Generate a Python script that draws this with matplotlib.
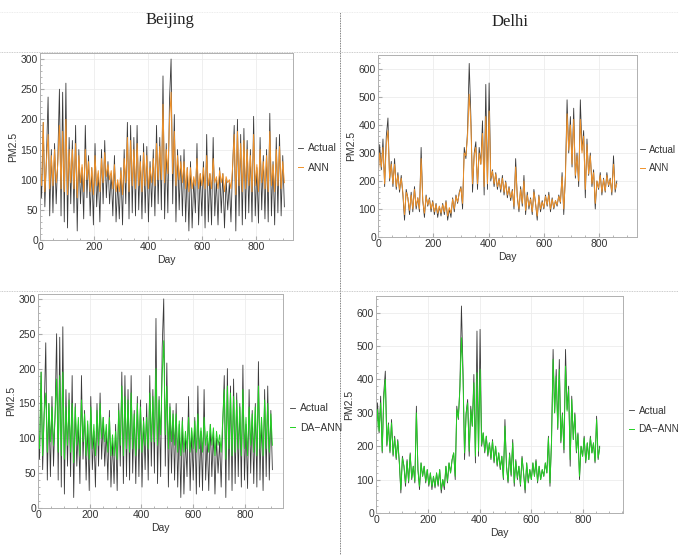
import numpy as np
import matplotlib.pyplot as plt
from matplotlib.lines import Line2D

# ---------------------------------------------------------
# Data (PM2.5, one value every 6 days)
# ---------------------------------------------------------
step = 6

beijing_actual = [
    130, 70, 195, 55, 140, 237, 40, 150, 45, 160,
    60, 135, 250, 40, 245, 30, 260, 20, 170, 60,
    165, 45, 190, 15, 150, 60, 120, 35, 190, 70,
    140, 40, 120, 25, 160, 55, 110, 30, 150, 60,
    165, 70, 130, 60, 110, 40, 140, 30, 95, 35,
    120, 25, 150, 60, 195, 35, 190, 45, 170, 40,
    190, 50, 140, 35, 160, 45, 155, 30, 130, 55,
    150, 40, 190, 60, 170, 50, 272, 35, 160, 45,
    230, 300, 60, 208, 30, 150, 50, 140, 40, 150,
    30, 120, 15, 130, 20, 100, 45, 160, 25, 110,
    40, 130, 20, 175, 30, 110, 25, 170, 40, 100,
    25, 120, 45, 110, 20, 100, 50, 95, 30, 120,
    190, 15, 200, 40, 175, 25, 185, 35, 165, 45,
    150, 30, 205, 40, 120, 28, 170, 50, 140, 35,
    150, 30, 210, 40, 130, 25, 170, 45, 175, 40,
    140, 55,
]
beijing_ann = [
    120, 90, 195, 80, 130, 175, 85, 140, 90, 150,
    95, 125, 190, 85, 180, 80, 200, 75, 150, 95,
    150, 85, 160, 70, 140, 95, 125, 80, 150, 100,
    130, 80, 120, 75, 140, 90, 115, 80, 135, 95,
    145, 105, 125, 100, 115, 85, 125, 80, 100, 80,
    115, 75, 135, 95, 170, 80, 165, 90, 150, 85,
    160, 90, 130, 80, 145, 90, 140, 85, 120, 95,
    135, 90, 160, 100, 155, 100, 225, 95, 150, 110,
    195, 245, 110, 180, 90, 140, 100, 130, 95, 130,
    85, 120, 80, 120, 85, 105, 90, 135, 85, 110,
    90, 120, 85, 140, 90, 110, 85, 135, 95, 105,
    85, 115, 95, 110, 80, 105, 95, 100, 85, 120,
    175, 75, 180, 90, 160, 80, 165, 85, 150, 90,
    140, 80, 175, 90, 125, 80, 150, 95, 130, 85,
    140, 80, 180, 90, 125, 80, 150, 90, 155, 85,
    130, 95,
]
beijing_da_ann = [
    115, 85, 195, 75, 135, 165, 80, 150, 95, 145,
    90, 130, 185, 80, 190, 75, 195, 70, 145, 90,
    155, 80, 150, 65, 145, 90, 130, 75, 155, 95,
    135, 75, 125, 70, 145, 85, 120, 75, 140, 90,
    150, 100, 130, 95, 120, 80, 130, 75, 105, 75,
    110, 70, 140, 90, 175, 75, 160, 85, 155, 80,
    165, 85, 135, 75, 150, 85, 145, 80, 125, 90,
    130, 85, 165, 95, 160, 95, 200, 90, 155, 105,
    190, 240, 105, 175, 85, 145, 95, 135, 90, 135,
    80, 125, 75, 125, 80, 110, 85, 130, 80, 115,
    85, 125, 80, 135, 85, 115, 80, 130, 90, 110,
    80, 120, 90, 115, 75, 110, 90, 105, 80, 125,
    170, 70, 175, 85, 165, 75, 160, 80, 155, 85,
    145, 75, 170, 85, 130, 75, 145, 90, 135, 80,
    145, 75, 175, 85, 130, 75, 155, 85, 150, 80,
    135, 90,
]

delhi_actual = [
    200, 330, 240, 350, 180, 360, 425, 200, 270, 180,
    280, 170, 230, 160, 220, 150, 60, 170, 140, 80,
    160, 90, 180, 100, 140, 90, 320, 130, 70, 150,
    110, 140, 90, 130, 80, 120, 70, 110, 75, 120,
    80, 130, 60, 100, 70, 140, 90, 150, 120, 160,
    180, 100, 320, 280, 380, 620, 430, 160, 300, 340,
    170, 320, 260, 415, 150, 545, 170, 550, 200, 240,
    180, 230, 170, 210, 160, 220, 150, 200, 140, 180,
    130, 170, 100, 280, 140, 90, 180, 110, 220, 80,
    160, 100, 140, 80, 170, 120, 60, 150, 90, 130,
    100, 150, 110, 160, 90, 140, 100, 130, 110, 150,
    120, 230, 80, 220, 490, 300, 430, 250, 460, 210,
    300, 180, 490, 310, 380, 140, 350, 220, 300, 180,
    240, 100, 200, 170, 230, 150, 210, 160, 230, 180,
    210, 150, 290, 160, 200,
]
delhi_ann = [
    210, 300, 250, 320, 190, 330, 380, 210, 260, 190,
    260, 180, 220, 170, 210, 160, 80, 160, 140, 95,
    150, 100, 170, 110, 140, 100, 280, 130, 85, 145,
    115, 135, 100, 125, 90, 115, 85, 110, 85, 115,
    90, 125, 75, 105, 85, 135, 100, 145, 125, 155,
    175, 120, 300, 290, 360, 510, 400, 190, 290, 320,
    190, 300, 260, 370, 180, 430, 190, 450, 210, 235,
    190, 225, 180, 205, 170, 210, 160, 195, 150, 175,
    140, 165, 110, 250, 145, 100, 170, 120, 200, 95,
    150, 110, 135, 90, 160, 120, 75, 145, 100, 125,
    105, 145, 115, 150, 100, 135, 105, 130, 115, 145,
    125, 215, 100, 210, 440, 310, 400, 260, 420, 220,
    290, 200, 420, 300, 360, 170, 330, 225, 290, 190,
    230, 120, 200, 175, 220, 160, 205, 165, 220, 185,
    205, 160, 260, 170, 190,
]
delhi_da_ann = [
    205, 310, 245, 330, 185, 340, 400, 205, 265, 185,
    270, 175, 225, 165, 215, 155, 70, 165, 140, 90,
    155, 95, 175, 105, 140, 95, 300, 130, 80, 150,
    110, 140, 95, 130, 85, 120, 80, 110, 80, 120,
    85, 130, 70, 100, 80, 140, 95, 150, 120, 160,
    180, 110, 310, 285, 370, 525, 410, 180, 295, 330,
    185, 310, 260, 390, 170, 420, 185, 430, 205, 240,
    185, 230, 175, 210, 165, 215, 155, 200, 145, 180,
    135, 170, 105, 260, 140, 95, 175, 115, 210, 90,
    155, 105, 140, 85, 165, 120, 70, 150, 95, 130,
    100, 150, 110, 155, 95, 140, 100, 130, 110, 150,
    120, 225, 90, 215, 460, 300, 410, 255, 430, 215,
    295, 190, 440, 305, 370, 160, 340, 220, 295, 185,
    235, 110, 200, 170, 225, 155, 210, 160, 225, 180,
    210, 155, 280, 165, 195,
]

beijing_days = np.arange(len(beijing_actual)) * step
delhi_days = np.arange(len(delhi_actual)) * step

# ---------------------------------------------------------
# Figure layout (pixel boxes measured on the 678x555 original)
# ---------------------------------------------------------
W, H = 678, 555
fig = plt.figure(figsize=(W / 100, H / 100), dpi=100)
plt.rcParams['font.family'] = ['Liberation Sans', 'DejaVu Sans']


def box(x0, y0, x1, y1):
    return [x0 / W, 1 - y1 / H, (x1 - x0) / W, (y1 - y0) / H]


ACTUAL_C = '#3a3a3a'
ANN_C = '#f0922a'
DA_C = '#22d022'

panels = [
    (box(40, 53, 293, 240), beijing_days, beijing_actual, beijing_ann, 'ANN', ANN_C, 310, 938, (298, 158), 7.5),
    (box(378, 55, 637, 237), delhi_days, delhi_actual, delhi_ann, 'ANN', ANN_C, 650, 937, (640, 159), 7.0),
    (box(38, 294, 283, 508), beijing_days, beijing_actual, beijing_da_ann, 'DA\u2212ANN', DA_C, 307, 947, (290, 418), 7.5),
    (box(376, 296, 623, 513), delhi_days, delhi_actual, delhi_da_ann, 'DA\u2212ANN', DA_C, 650, 954, (629, 420), 7.2),
]

for rect, days, actual, model, mlabel, mcolor, ytop, xr, leg, lfs in panels:
    ax = fig.add_axes(rect)
    ax.plot(days, actual, color=ACTUAL_C, lw=0.6, label='Actual')
    ax.plot(days, model, color=mcolor, lw=0.7, label=mlabel)
    ax.set_xlim(0, xr)
    ax.set_ylim(0, ytop)
    ax.set_xticks([0, 200, 400, 600, 800])
    ax.set_yticks(np.arange(0, ytop, 100 if ytop > 400 else 50))
    ax.minorticks_on()
    ax.grid(True, which='major', color='#ececec', lw=0.6)
    ax.tick_params(which='both', direction='in', colors='#aaaaaa', labelcolor='#333333',
                   labelsize=7.5, pad=1.5)
    ax.tick_params(which='major', length=3)
    ax.tick_params(which='minor', length=1.5)
    for s in ax.spines.values():
        s.set_color('#b0b0b0')
        s.set_linewidth(0.7)
    ax.set_xlabel('Day', fontsize=7.5, color='#333333', labelpad=2)
    ax.set_ylabel('PM2.5', fontsize=7.5, color='#333333', labelpad=2)
    # legend to the right of each panel
    lx, ly = leg
    ax.legend(handles=[Line2D([], [], color=ACTUAL_C, lw=0.6), Line2D([], [], color=mcolor, lw=0.7)],
              labels=['Actual', mlabel], loc='center left',
              bbox_to_anchor=(lx / W, 1 - ly / H), bbox_transform=fig.transFigure,
              frameon=False, fontsize=lfs, handlelength=0.5, handletextpad=0.45,
              labelspacing=0.9, borderaxespad=0, borderpad=0, labelcolor='#333333')

# City headings
fig.text(170 / W, 1 - 20 / H, 'Beijing', ha='center', va='center',
         family='Liberation Serif', fontsize=12, color='#222222')
fig.text(510 / W, 1 - 22 / H, 'Delhi', ha='center', va='center',
         family='Liberation Serif', fontsize=12, color='#222222')

# Dotted table rules
fig.add_artist(Line2D([340 / W, 340 / W], [0, 1 - 12 / H], transform=fig.transFigure,
                      color='#555555', lw=0.6, ls=(0, (1, 1))))
for yy in (52, 291):
    fig.add_artist(Line2D([0, 1], [1 - yy / H, 1 - yy / H], transform=fig.transFigure,
                          color='#bbbbbb', lw=0.6, ls=(0, (1, 1))))
fig.add_artist(Line2D([0, 1], [1 - 12 / H, 1 - 12 / H], transform=fig.transFigure,
                      color='#e6e6e6', lw=0.6, ls=(0, (1, 1))))

fig.savefig('out.png', dpi=100)
